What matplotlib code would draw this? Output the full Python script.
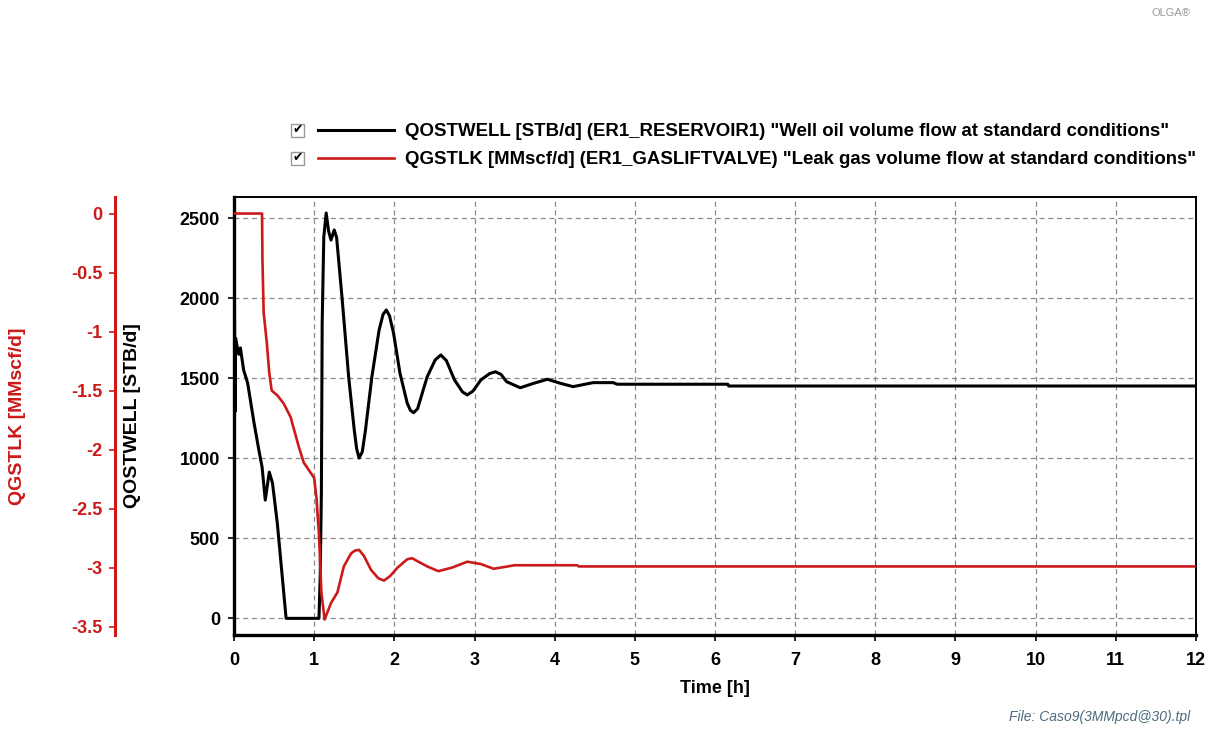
import matplotlib.pyplot as plt
from matplotlib.patches import Rectangle

# well oil flow QOSTWELL [STB/d] vs time [h]
t_oil = [0.0, 0.005, 0.012, 0.02, 0.03, 0.06, 0.08, 0.12, 0.17, 0.21, 0.25, 0.31,
         0.35, 0.39, 0.44, 0.48, 0.54, 0.65, 1.06, 1.075, 1.09, 1.10, 1.12, 1.15,
         1.18, 1.21, 1.25, 1.28, 1.35, 1.43, 1.50, 1.53, 1.56, 1.60, 1.64, 1.72,
         1.81, 1.86, 1.90, 1.94, 1.99, 2.07, 2.16, 2.20, 2.24, 2.29, 2.41, 2.51,
         2.58, 2.65, 2.75, 2.85, 2.91, 2.98, 3.08, 3.19, 3.26, 3.33, 3.40, 3.57,
         3.74, 3.91, 4.07, 4.23, 4.48, 4.73, 4.78, 6.16, 6.17, 12.0]
q_oil = [1290, 2080, 1290, 1750, 1720, 1650, 1690, 1552, 1471, 1346, 1221, 1052,
         946, 739, 914, 846, 596, 0, 0, 258, 783, 1846, 2383, 2533,
         2420, 2364, 2427, 2380, 1990, 1510, 1177, 1060, 1002, 1040, 1177, 1510,
         1802, 1900, 1927, 1890, 1783, 1533, 1346, 1300, 1285, 1310, 1510, 1615,
         1646, 1610, 1490, 1415, 1396, 1420, 1490, 1530, 1541, 1525, 1479, 1441,
         1469, 1494, 1469, 1448, 1473, 1473, 1463, 1463, 1452, 1452]

# leak gas flow QGSTLK [MMscf/d] vs time [h]
t_gas = [0.0, 0.35, 0.355, 0.37, 0.41, 0.44, 0.47, 0.54, 0.62, 0.71, 0.72, 0.81,
         0.87, 0.93, 1.0, 1.03, 1.06, 1.09, 1.13, 1.21, 1.29, 1.37, 1.46, 1.51,
         1.56, 1.62, 1.71, 1.80, 1.87, 1.95, 2.04, 2.16, 2.22, 2.30, 2.41, 2.55,
         2.72, 2.91, 3.08, 3.24, 3.5, 4.28, 4.3, 12.0]
q_gas = [0.0, 0.0, -0.40, -0.84, -1.10, -1.35, -1.50, -1.54, -1.61, -1.73, -1.76, -1.98,
         -2.11, -2.17, -2.24, -2.42, -2.72, -3.21, -3.44, -3.30, -3.21, -2.99, -2.88, -2.855,
         -2.85, -2.90, -3.02, -3.09, -3.11, -3.07, -3.00, -2.93, -2.92, -2.95, -2.99, -3.03,
         -3.00, -2.95, -2.97, -3.01, -2.98, -2.98, -2.99, -2.99]

oil_ticks = [0, 500, 1000, 1500, 2000, 2500]
gas_ticks = [0, -0.5, -1, -1.5, -2, -2.5, -3, -3.5]
gas_tick_labels = ['0', '-0.5', '-1', '-1.5', '-2', '-2.5', '-3', '-3.5']
hours = list(range(13))

oil_label = 'QOSTWELL [STB/d] (ER1_RESERVOIR1) "Well oil volume flow at standard conditions"'
gas_label = 'QGSTLK [MMscf/d] (ER1_GASLIFTVALVE) "Leak gas volume flow at standard conditions"'

red = '#cc1a1a'

plt.rcParams['font.family'] = ['Liberation Sans', 'DejaVu Sans']
plt.rcParams['font.weight'] = 'bold'

W, H = 1209, 731
fig = plt.figure(figsize=(W / 100, H / 100), dpi=100)
ax = fig.add_axes([234 / W, 1 - 635 / H, 962 / W, 438 / H])

l_oil, = ax.plot(t_oil, q_oil, color='black', lw=2.2)
ax.set_xlim(0, 12)
ax.set_ylim(-104, 2633)
ax.set_xticks(hours)
ax.set_yticks(oil_ticks)
ax.grid(True, color='#8a8a8a', linestyle=(0, (4, 3)), lw=0.9)
ax.tick_params(direction='out', length=4, width=1.2, labelsize=13)
ax.tick_params(axis='x', pad=8)
ax.tick_params(axis='y', pad=6)
for side in ['left', 'bottom']:
    ax.spines[side].set_linewidth(2.4)
for side in ['top', 'right']:
    ax.spines[side].set_linewidth(1.4)
ax.set_xlabel('Time [h]', fontsize=13, fontweight='bold', labelpad=8)
ax.set_ylabel('QOSTWELL [STB/d]', fontsize=14, fontweight='bold')
ax.yaxis.set_label_coords(-0.097, 0.5)

# second axis for the gas leak, spine pushed out to the left
ax2 = ax.twinx()
l_gas, = ax2.plot(t_gas, q_gas, color=red, lw=1.9)
ax2.set_ylim(-3.571, 0.14)
ax2.set_yticks(gas_ticks)
ax2.set_yticklabels(gas_tick_labels)
ax2.yaxis.set_ticks_position('left')
ax2.yaxis.set_label_position('left')
for side in ['right', 'top', 'bottom']:
    ax2.spines[side].set_visible(False)
ax2.spines['left'].set_visible(True)
ax2.spines['left'].set_position(('axes', -0.1237))
ax2.spines['left'].set_color(red)
ax2.spines['left'].set_linewidth(2.2)
ax2.tick_params(axis='y', colors=red, direction='out', length=4, width=1.2,
                labelsize=13, pad=5)
ax2.set_ylabel('QGSTLK [MMscf/d]', fontsize=14, fontweight='bold', color=red)
ax2.yaxis.set_label_coords(-0.216, 0.5)

# legend with the check boxes of the original tool
fig.legend([l_oil, l_gas], [oil_label, gas_label], loc='upper left',
           bbox_to_anchor=(318 / W, 1 - 123 / H), frameon=False, fontsize=13.4,
           handlelength=4.1, handletextpad=0.55, borderaxespad=0, borderpad=0,
           labelspacing=0.6)
for yc in [130, 158]:
    fig.add_artist(Rectangle((291 / W, 1 - (yc + 6.5) / H), 13 / W, 13 / H,
                             transform=fig.transFigure, fill=False,
                             ec='#999999', lw=1))
    fig.text(297.5 / W, 1 - yc / H, '\u2714', ha='center', va='center',
             fontsize=9, family='DejaVu Sans', color='black')

fig.text(1190 / W, 1 - 717 / H, 'File: Caso9(3MMpcd@30).tpl', ha='right',
         va='center', style='italic', fontweight='normal', fontsize=10,
         color='#4b6b7b')
fig.text(1190 / W, 1 - 13 / H, 'OLGA\u00ae', ha='right', va='center',
         fontsize=8, fontweight='normal', color='#999999')

fig.savefig('out.png', dpi=100)
